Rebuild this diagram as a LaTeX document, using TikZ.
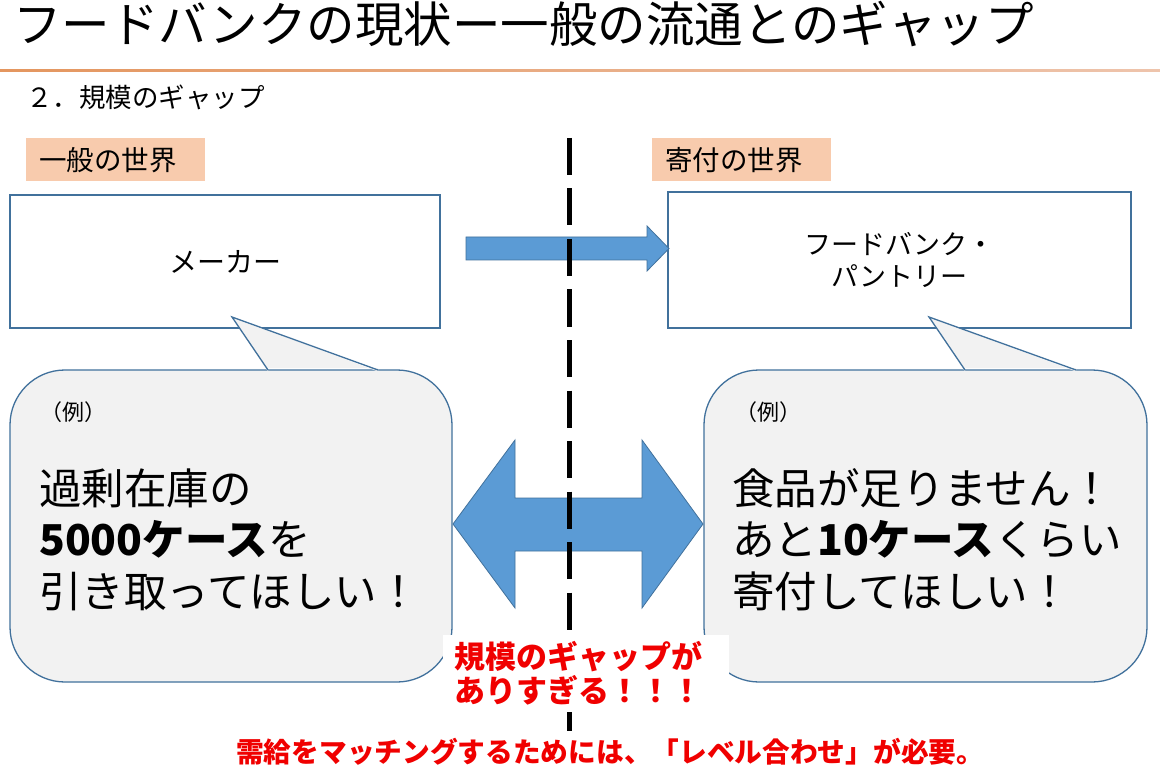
\documentclass[tikz,border=0pt]{standalone}
\usepackage{fontspec}
\setmainfont{Noto Sans CJK JP}
\definecolor{boxblue}{HTML}{41719C}
\definecolor{arrowblue}{HTML}{5B9BD5}
\definecolor{peach}{HTML}{F8CBAD}
\definecolor{bubblegray}{HTML}{F2F2F2}
\definecolor{alertred}{RGB}{240,0,0}
\definecolor{lineorangeA}{RGB}{228,150,95}
\definecolor{lineorangeB}{RGB}{238,196,172}
\newcommand{\fs}[1]{\fontsize{#1}{#1}\selectfont}
\begin{document}
\begin{tikzpicture}[x=1pt,y=-1pt,
  box/.style={draw=boxblue, line width=1.4pt, fill=white, inner sep=0pt},
  lab/.style={fill=peach, inner xsep=13pt, inner ysep=0pt, anchor=north west,
    minimum width=179pt, minimum height=43pt, text width=153pt, align=left,
    font=\fs{27.5}},
  bubble/.style={draw=boxblue, line width=1.3pt, fill=bubblegray,
    rounded corners=55pt, inner sep=0pt},
  tailline/.style={draw=boxblue, line width=1.3pt, line join=miter},
  blockarrow/.style={fill=arrowblue, draw=boxblue, line width=0.8pt},
  divider/.style={line width=5pt, dash pattern=on 37pt off 13.5pt},
  txt/.style={anchor=base west, inner sep=0pt},
  bigtxt/.style={txt, font=\fs{42.5}},
  smalltxt/.style={txt, font=\fs{22}},
  redtxt/.style={txt, text=alertred, font=\fs{31}\bfseries},
]
\useasboundingbox (0,0) rectangle (1160,778);
\fill[white] (0,0) rectangle (1160,778);

% title
\node[txt, font=\fs{48.5}] (title) at (13,43) {フードバンクの現状ー一般の流通とのギャップ};
\shade[left color=lineorangeA, right color=lineorangeB] (0,69.5) rectangle (1160,71.5);
\node[txt, font=\fs{26.5}] (sub) at (26,108) {２．規模のギャップ};

% labels
\node[lab] (lwlab) at (26,138) {一般の世界};
\node[lab] (rwlab) at (652,138) {寄付の世界};

% boxes
\node[box, minimum width=430pt, minimum height=133pt, font=\fs{28}] (maker) at (225,261.5) {メーカー};
\node[box, minimum width=463pt, minimum height=136pt, font=\fs{27}, align=center] (fb) at (899.5,260) {フードバンク・\\[5pt]パントリー};

% right block arrow
\path[blockarrow] (466,237) -- (647,237) -- (647,226) -- (669,248.5) -- (647,271) -- (647,260) -- (466,260) -- cycle;

% left bubble
\node[bubble, minimum width=442pt, minimum height=312pt] (lbub) at (231,526) {};
\coordinate (lt1) at (268,370);
\coordinate (ltip) at (232,317);
\coordinate (lt2) at (378,370);
\fill[bubblegray] ([yshift=-1.5pt]lt1) -- (ltip) -- ([yshift=-1.5pt]lt2) -- ([yshift=2pt]lt2) -- ([yshift=2pt]lt1) -- cycle;
\draw[tailline] (lt1) -- (ltip) -- (lt2);

% right bubble
\node[bubble, minimum width=443pt, minimum height=312pt] (rbub) at (925.5,526) {};
\coordinate (rt1) at (965,370);
\coordinate (rtip) at (929,317);
\coordinate (rt2) at (1076,370);
\fill[bubblegray] ([yshift=-1.5pt]rt1) -- (rtip) -- ([yshift=-1.5pt]rt2) -- ([yshift=2pt]rt2) -- ([yshift=2pt]rt1) -- cycle;
\draw[tailline] (rt1) -- (rtip) -- (rt2);

% double arrow
\path[blockarrow] (453,524) -- (515,440) -- (515,498) -- (642,498) -- (642,440) -- (703,524)
  -- (642,608) -- (642,551) -- (515,551) -- (515,608) -- cycle;

% bubble texts
\node[smalltxt] (lex) at (40,420) {（例）};
\node[bigtxt] (l1) at (39,504) {過剰在庫の};
\node[bigtxt] (l2) at (39,555) {\textbf{5000ケース}を};
\node[bigtxt] (l3) at (39,607) {引き取ってほしい！};

\node[smalltxt] (rex) at (735,420) {（例）};
\node[bigtxt] (r1) at (732,504) {食品が足りません！};
\node[bigtxt] (r2) at (732,555) {あと\textbf{10ケース}くらい};
\node[bigtxt] (r3) at (732,607) {寄付してほしい！};

% divider
\coordinate (dtop) at (569,138);
\coordinate (dbot) at (569,731);
\draw[divider] (dtop) -- (dbot);

% gap message
\fill[white] (443,635) rectangle (729,712);
\node[redtxt] (g1) at (454,668) {規模のギャップが};
\node[redtxt] (g2) at (454,702) {ありすぎる！！！};

\node[txt, text=alertred, font=\fs{27.7}\bfseries] (foot) at (236,762) {需給をマッチングするためには、「レベル合わせ」が必要。};
\end{tikzpicture}
\end{document}
